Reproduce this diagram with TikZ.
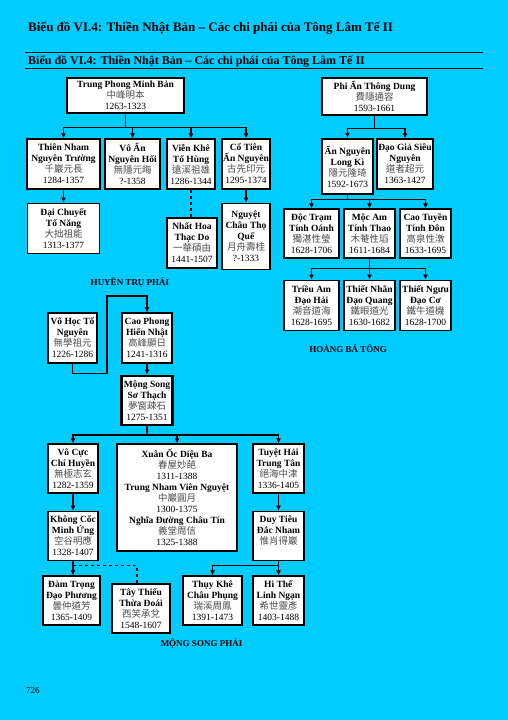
\documentclass[tikz,border=0pt]{standalone}
\usepackage{fontspec}
\setmainfont{Liberation Serif}
\newfontfamily\cjk{Noto Sans CJK TC}
\usepackage{xcolor}
\usetikzlibrary{arrows.meta, positioning, calc}
\definecolor{pagebg}{HTML}{00CCFF}
\newcommand{\zh}[1]{{\cjk\color{black!70}#1}}

\begin{document}
\begin{tikzpicture}[x=1pt, y=-1pt, >={Latex[length=5pt,width=5pt]}, font=\fontsize{9.5}{11}\selectfont]
    \tikzstyle{monk} = [rectangle, draw=black, fill=white, line width=1.2pt, minimum width=51pt, minimum height=50pt, inner sep=1pt, align=center]
    \tikzstyle{master} = [monk, line width=2.4pt]
    \tikzstyle{link} = [draw, ->, line width=1.2pt]
    \tikzstyle{plainlink} = [draw, line width=1.2pt]
    \tikzstyle{dashlink} = [draw, dashed, line width=1.2pt]
    \tikzstyle{school} = [font=\fontsize{9}{11}\selectfont\bfseries]

    \fill [pagebg] (0,0) rectangle (508,720);
    \useasboundingbox (0,0) rectangle (508,720);

    % headings
    \node [anchor=west, inner sep=0pt, font=\fontsize{13}{15}\selectfont\bfseries] (title) at (28,28) {Biểu đồ VI.4: Thiền Nhật Bản – Các chi phái của Tông Lâm Tế II};
    \draw [line width=0.8pt] (25,52) -- (483,52);
    \node [anchor=west, inner sep=0pt, font=\fontsize{12}{14}\selectfont\bfseries] (subtitle) at (28,61) {Biểu đồ VI.4: Thiền Nhật Bản – Các chi phái của Tông Lâm Tế II};
    \draw [line width=0.8pt] (25,68) -- (483,68);

    % Huyen Tru phai
    \node [monk, minimum width=117pt, minimum height=35pt] (trungphong) at (125.5,95.5) {\textbf{Trung Phong Minh Bản}\\\zh{中峰明本}\\1263-1323};
    \node [monk, minimum width=73pt] (thiennham) at (63.5,164) {\textbf{Thiên Nham}\\\textbf{Nguyên Trường}\\\zh{千巖元長}\\1284-1357};
    \node [monk, minimum width=55pt] (voan) at (132.5,164) {\textbf{Vô Ẩn}\\\textbf{Nguyên Hối}\\\zh{無隱元晦}\\?-1358};
    \node [monk, minimum width=48pt] (vienkhe) at (191,164) {\textbf{Viễn Khê}\\\textbf{Tổ Hùng}\\\zh{遠溪祖雄}\\1286-1344};
    \node [monk, minimum width=48pt] (cotien) at (246,164) {\textbf{Cổ Tiên}\\\textbf{Ấn Nguyên}\\\zh{古先印元}\\1295-1374};
    \node [monk, minimum width=72pt, below=13pt of thiennham] (daichuyet) {\textbf{Đại Chuyết}\\\textbf{Tổ Năng}\\\zh{大拙祖能}\\1313-1377};
    \node [monk, minimum width=50pt] (nhathoa) at (192,243) {\textbf{Nhất Hoa}\\\textbf{Thạc Do}\\\zh{一華碩由}\\1441-1507};
    \node [monk, minimum width=48pt, minimum height=66pt, below=13pt of cotien] (nguyetchau) {\textbf{Nguyệt}\\\textbf{Châu Thọ}\\\textbf{Quế}\\\zh{月舟壽桂}\\?-1333};
    \node [school] (huyentru) at (130,282) {HUYỀN TRỤ PHÁI};

    \coordinate (bus1) at ($(trungphong.south)+(0,14)$);
    \path [plainlink] (trungphong.south) -- (bus1);
    \foreach \k in {thiennham, voan, vienkhe, cotien}
        \path [link] (bus1) -| (\k.north);
    \path [link] (thiennham.south) -- (daichuyet.north);
    \path [dashlink] (vienkhe.south) -- (vienkhe.south |- nhathoa.north);
    \path [link] (cotien.south) -- (nguyetchau.north);

    % Hoang Ba tong
    \node [monk, minimum width=105pt, minimum height=37pt] (phian) at (374.5,96.5) {\textbf{Phi Ẩn Thông Dung}\\\zh{費隱通容}\\1593-1661};
    \node [master, minimum height=55pt] (annguyen) at (347.5,166.5) {\textbf{Ẩn Nguyên}\\\textbf{Long Kì}\\\zh{隱元隆琦}\\1592-1673};
    \node [monk, minimum width=56pt] (daogia) at (405,164) {\textbf{Đạo Giả Siêu}\\\textbf{Nguyên}\\\zh{道者超元}\\1363-1427};
    \node [monk, minimum width=55pt, minimum height=49pt] (doctram) at (311.5,233.5) {\textbf{Độc Trạm}\\\textbf{Tính Oánh}\\\zh{獨湛性瑩}\\1628-1706};
    \node [monk, minimum height=49pt] (mocam) at (369.5,233.5) {\textbf{Mộc Am}\\\textbf{Tính Thao}\\\zh{木菴性瑫}\\1611-1684};
    \node [monk, minimum height=49pt] (caotuyen) at (425.5,233.5) {\textbf{Cao Tuyền}\\\textbf{Tính Đôn}\\\zh{高泉性潡}\\1633-1695};
    \node [monk, minimum width=55pt, below=21pt of doctram] (trieuam) {\textbf{Triều Am}\\\textbf{Đạo Hải}\\\zh{潮音道海}\\1628-1695};
    \node [monk, below=21pt of mocam] (thietnhan) {\textbf{Thiết Nhãn}\\\textbf{Đạo Quang}\\\zh{鐵眼道光}\\1630-1682};
    \node [monk, below=21pt of caotuyen] (thietnguu) {\textbf{Thiết Ngưu}\\\textbf{Đạo Cơ}\\\zh{鐵牛道機}\\1628-1700};
    \node [school] (hoangba) at (348,349) {HOÀNG BÁ TÔNG};

    \coordinate (bus2) at ($(phian.south)+(0,13)$);
    \path [plainlink] (phian.south) -- (bus2);
    \foreach \k in {annguyen, daogia}
        \path [link] (bus2) -| (\k.north);
    \coordinate (bus3) at ($(annguyen.south)+(0,4)$);
    \path [plainlink] (annguyen.south) -- (bus3);
    \foreach \k in {doctram, mocam, caotuyen}
        \path [link] (bus3) -| (\k.north);
    \coordinate (bus4) at ($(mocam.south)+(0,10)$);
    \path [plainlink] (mocam.south) -- (bus4);
    \foreach \k in {trieuam, thietnhan, thietnguu}
        \path [link] (bus4) -| (\k.north);

    % Mong Song phai
    \node [monk, minimum width=49pt] (vohoc) at (72.5,338) {\textbf{Vô Học Tổ}\\\textbf{Nguyên}\\\zh{無學祖元}\\1226-1286};
    \node [monk, minimum width=50pt] (caophong) at (147,338) {\textbf{Cao Phong}\\\textbf{Hiển Nhật}\\\zh{高峰顯日}\\1241-1316};
    \node [master, minimum height=49pt, below=11pt of caophong] (mongsong) {\textbf{Mộng Song}\\\textbf{Sơ Thạch}\\\zh{夢窗疎石}\\1275-1351};
    \node [monk, minimum width=50pt, minimum height=49pt] (vocuc) at (73,468.5) {\textbf{Vô Cực}\\\textbf{Chí Huyền}\\\zh{無極志玄}\\1282-1359};
    \node [monk, minimum width=120pt, minimum height=107pt] (xuanoc) at (177,497.5) {\textbf{Xuân Ốc Diệu Ba}\\\zh{春屋妙葩}\\1311-1388\\\textbf{Trung Nham Viên Nguyệt}\\\zh{中巖圓月}\\1300-1375\\\textbf{Nghĩa Đường Châu Tín}\\\zh{義堂周信}\\1325-1388};
    \node [monk, minimum height=49pt] (tuyethai) at (278.5,468.5) {\textbf{Tuyệt Hải}\\\textbf{Trung Tân}\\\zh{絕海中津}\\1336-1405};
    \node [monk, minimum width=50pt, minimum height=49pt, below=17pt of vocuc] (khongcoc) {\textbf{Không Cốc}\\\textbf{Minh Ứng}\\\zh{空谷明應}\\1328-1407};
    \node [monk, minimum height=49pt, below=17pt of tuyethai] (duytieu) {\textbf{Duy Tiêu}\\\textbf{Đắc Nham}\\\zh{惟肖得巖}\\\mbox{}};
    \node [monk, minimum width=57pt, minimum height=49pt] (damtrong) at (71.5,600.5) {\textbf{Đàm Trọng}\\\textbf{Đạo Phương}\\\zh{曇仲道芳}\\1365-1409};
    \node [monk, minimum width=58pt, minimum height=49pt] (taythieu) at (141,608.5) {\textbf{Tây Thiếu}\\\textbf{Thừa Đoái}\\\zh{西笑承兌}\\1548-1607};
    \node [monk, minimum width=59pt, minimum height=49pt] (thuykhe) at (212.5,600.5) {\textbf{Thụy Khê}\\\textbf{Châu Phụng}\\\zh{瑞溪周鳳}\\1391-1473};
    \node [monk, minimum height=49pt] (hithe) at (278.5,600.5) {\textbf{Hi Thế}\\\textbf{Linh Ngạn}\\\zh{希世靈彥}\\1403-1488};
    \node [school] (mongsongphai) at (201.5,643) {MỘNG SONG PHÁI};
    \node [anchor=west, inner sep=0pt, font=\fontsize{9}{11}\selectfont] (pagenum) at (26,691) {726};

    \coordinate (elbow) at (107,296);
    \path [link] (vohoc.south) -- ++(0,10) -| (elbow) -| (caophong.north);
    \path [link] (caophong.south) -- (mongsong.north);
    \coordinate (bus5) at ($(mongsong.south)+(0,9)$);
    \path [plainlink] (mongsong.south) -- (bus5);
    \foreach \k in {vocuc, xuanoc, tuyethai}
        \path [link] (bus5) -| (\k.north);
    \path [link] (vocuc.south) -- (khongcoc.north);
    \path [link] (khongcoc.south) -- (damtrong.north -| khongcoc.south);
    \path [dashlink] ($(khongcoc.south)+(0,5)$) -| ([xshift=-4pt]taythieu.north);
    \path [link] (tuyethai.south) -- (duytieu.north);
    \coordinate (bus6) at ($(duytieu.south)+(0,5)$);
    \path [plainlink] (duytieu.south) -- (bus6);
    \foreach \k in {thuykhe, hithe}
        \path [link] (bus6) -| (\k.north);
\end{tikzpicture}
\end{document}
